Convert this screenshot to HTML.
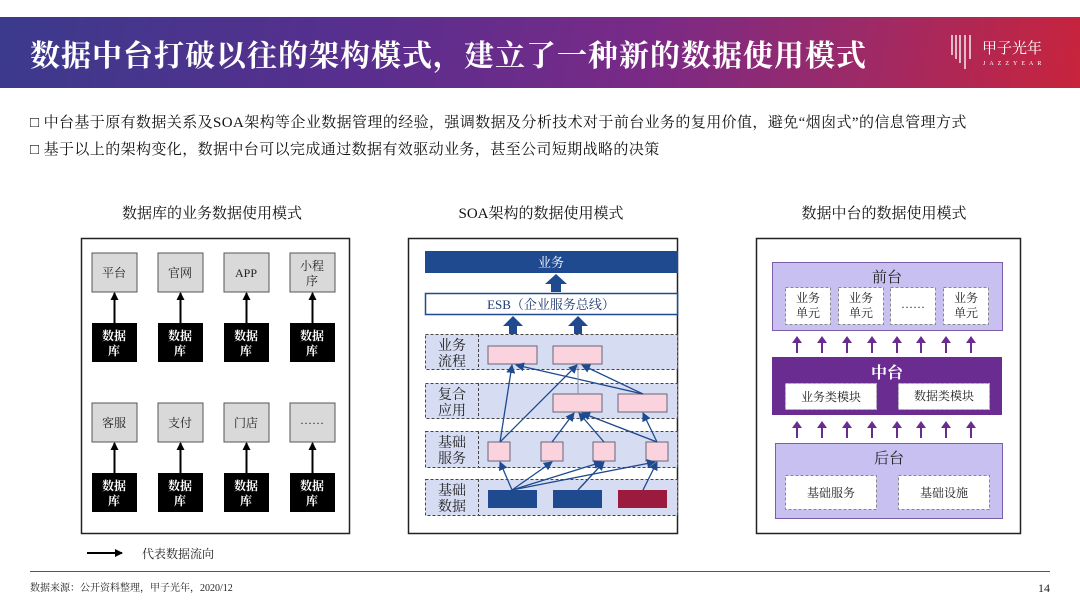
<!DOCTYPE html>
<html><head><meta charset="utf-8">
<style>
html,body{margin:0;padding:0;background:#fff;}
body{width:1080px;height:607px;position:relative;overflow:hidden;font-family:"Liberation Serif","Noto Serif CJK SC",serif;}
.hdr{position:absolute;left:0;top:17px;width:1080px;height:71px;background:linear-gradient(100deg,#3b3a8c 0%,#5a2e8e 35%,#7a2a86 60%,#9a2a6a 78%,#c8243c 100%);}
.title{position:absolute;left:30px;top:31px;color:#fff;font-size:30px;font-weight:bold;letter-spacing:1px;font-family:"Liberation Serif","Noto Serif CJK SC",serif;}
.b{position:absolute;left:30px;font-size:15px;letter-spacing:0.4px;color:#111;font-family:"Liberation Serif","Noto Serif CJK SC",serif;}
svg text{font-family:"Liberation Serif","Noto Serif CJK SC",serif;}
</style></head><body>
<div class="hdr"></div>
<div class="title">数据中台打破以往的架构模式，建立了一种新的数据使用模式</div>
<svg style="position:absolute;left:945px;top:33px" width="110" height="45">
<g stroke="#fff" stroke-width="1.5" opacity="0.9"><line x1="7" y1="2" x2="7" y2="22"/><line x1="11" y1="2" x2="11" y2="26"/><line x1="15" y1="2" x2="15" y2="30"/><line x1="20" y1="2" x2="20" y2="36"/><line x1="25" y1="2" x2="25" y2="26"/></g>
<text x="37" y="20" fill="#fff" font-size="15" font-family="Liberation Sans,Noto Sans CJK SC,sans-serif">甲子光年</text>
<text x="38" y="32" fill="#fff" font-size="6" letter-spacing="4">JAZZYEAR</text>
</svg>
<div class="b" style="top:111px">□ 中台基于原有数据关系及SOA架构等企业数据管理的经验，强调数据及分析技术对于前台业务的复用价值，避免“烟囱式”的信息管理方式</div>
<div class="b" style="top:138px">□ 基于以上的架构变化，数据中台可以完成通过数据有效驱动业务，甚至公司短期战略的决策</div>

<svg style="position:absolute;left:0;top:0" width="1080" height="607">
<defs>
<marker id="ab" markerWidth="8" markerHeight="8" refX="7" refY="4" orient="auto" markerUnits="userSpaceOnUse"><path d="M0,0 L8,4 L0,8z" fill="#000"/></marker>
<marker id="abl" markerWidth="9" markerHeight="9" refX="8" refY="4.5" orient="auto" markerUnits="userSpaceOnUse"><path d="M0,0 L9,4.5 L0,9z" fill="#1f4a8f"/></marker>
</defs>
<g font-size="15" fill="#111" text-anchor="middle">
<text x="212" y="218">数据库的业务数据使用模式</text>
<text x="541" y="218">SOA架构的数据使用模式</text>
<text x="884" y="218">数据中台的数据使用模式</text>
</g>
<!-- Panel 1 -->
<rect x="81.5" y="238.5" width="268" height="295" fill="none" stroke="#222" stroke-width="1.5"/>
<g font-size="12" text-anchor="middle">
<g fill="#d9d9d9" stroke="#555">
<rect x="92" y="253" width="45" height="39"/><rect x="158" y="253" width="45" height="39"/><rect x="224" y="253" width="45" height="39"/><rect x="290" y="253" width="45" height="39"/>
<rect x="92" y="403" width="45" height="39"/><rect x="158" y="403" width="45" height="39"/><rect x="224" y="403" width="45" height="39"/><rect x="290" y="403" width="45" height="39"/>
</g>
<g fill="#222"><text x="114" y="277">平台</text><text x="180" y="277">官网</text><text x="246" y="277">APP</text><text x="312" y="270">小程</text><text x="312" y="285">序</text>
<text x="114" y="427">客服</text><text x="180" y="427">支付</text><text x="246" y="427">门店</text><text x="312" y="424">……</text></g>
<g fill="#000">
<rect x="92" y="323" width="45" height="39"/><rect x="158" y="323" width="45" height="39"/><rect x="224" y="323" width="45" height="39"/><rect x="290" y="323" width="45" height="39"/>
<rect x="92" y="473" width="45" height="39"/><rect x="158" y="473" width="45" height="39"/><rect x="224" y="473" width="45" height="39"/><rect x="290" y="473" width="45" height="39"/>
</g>
<g fill="#fff" font-weight="bold">
<text x="114" y="340">数据</text><text x="114" y="355">库</text><text x="180" y="340">数据</text><text x="180" y="355">库</text><text x="246" y="340">数据</text><text x="246" y="355">库</text><text x="312" y="340">数据</text><text x="312" y="355">库</text>
<text x="114" y="490">数据</text><text x="114" y="505">库</text><text x="180" y="490">数据</text><text x="180" y="505">库</text><text x="246" y="490">数据</text><text x="246" y="505">库</text><text x="312" y="490">数据</text><text x="312" y="505">库</text>
</g>
<g stroke="#000" stroke-width="2" marker-end="url(#ab)">
<line x1="114.5" y1="323" x2="114.5" y2="293"/><line x1="180.5" y1="323" x2="180.5" y2="293"/><line x1="246.5" y1="323" x2="246.5" y2="293"/><line x1="312.5" y1="323" x2="312.5" y2="293"/>
<line x1="114.5" y1="473" x2="114.5" y2="443"/><line x1="180.5" y1="473" x2="180.5" y2="443"/><line x1="246.5" y1="473" x2="246.5" y2="443"/><line x1="312.5" y1="473" x2="312.5" y2="443"/>
<line x1="87" y1="553" x2="122" y2="553"/>
</g>
<text x="178" y="558" fill="#222">代表数据流向</text>
</g>
<!-- Panel 2 -->
<rect x="408.5" y="238.5" width="269" height="295" fill="none" stroke="#222" stroke-width="1.5"/>
<rect x="425" y="251" width="253" height="22" fill="#1f4a8f"/>
<text x="551" y="267" fill="#fff" font-size="13" text-anchor="middle">业务</text>
<rect x="425.5" y="293.5" width="252" height="21" fill="#fff" stroke="#1f4a8f" stroke-width="1.5"/>
<text x="551" y="309" fill="#1f3a6f" font-size="13" text-anchor="middle">ESB（企业服务总线）</text>
<g fill="#1f4a8f">
<path d="M551,292 v-8 h-6 l11,-10 l11,10 h-6 v8z"/>
<path d="M509,334 v-8 h-6 l10,-10 l10,10 h-6 v8z"/>
<path d="M574,334 v-8 h-6 l10,-10 l10,10 h-6 v8z"/>
</g>
<g fill="#d6dcf2" stroke="#444" stroke-dasharray="3,2">
<rect x="425.5" y="334.5" width="252" height="35"/><rect x="425.5" y="383.5" width="252" height="35"/><rect x="425.5" y="431.5" width="252" height="36"/><rect x="425.5" y="479.5" width="252" height="36"/>
<line x1="478.5" y1="334" x2="478.5" y2="370"/><line x1="478.5" y1="383" x2="478.5" y2="419"/><line x1="478.5" y1="431" x2="478.5" y2="468"/><line x1="478.5" y1="479" x2="478.5" y2="516"/>
</g>
<g font-size="14" fill="#222" text-anchor="middle">
<text x="452" y="350">业务</text><text x="452" y="366">流程</text>
<text x="452" y="399">复合</text><text x="452" y="415">应用</text>
<text x="452" y="447">基础</text><text x="452" y="463">服务</text>
<text x="452" y="495">基础</text><text x="452" y="511">数据</text>
</g>
<g fill="#fbd3df" stroke="#667">
<rect x="488" y="346" width="49" height="18"/><rect x="553" y="346" width="49" height="18"/>
<rect x="553" y="394" width="49" height="18"/><rect x="618" y="394" width="49" height="18"/>
<rect x="488" y="442" width="22" height="19"/><rect x="541" y="442" width="22" height="19"/><rect x="593" y="442" width="22" height="19"/><rect x="646" y="442" width="22" height="19"/>
</g>
<rect x="488" y="490" width="49" height="18" fill="#1f4a8f"/><rect x="553" y="490" width="49" height="18" fill="#1f4a8f"/><rect x="618" y="490" width="49" height="18" fill="#9b1b3f"/>
<g stroke="#1f4a8f" stroke-width="1.3" fill="none" marker-end="url(#abl)">
<line x1="500" y1="442" x2="512" y2="365"/>
<line x1="500" y1="442" x2="577" y2="365"/>
<line x1="643" y1="394" x2="516" y2="365"/>
<line x1="643" y1="394" x2="582" y2="365"/>
<line x1="552" y1="442" x2="574" y2="413"/>
<line x1="604" y1="442" x2="579" y2="413"/>
<line x1="657" y1="442" x2="582" y2="413"/>
<line x1="657" y1="442" x2="643" y2="413"/>
<line x1="512" y1="490" x2="500" y2="462"/>
<line x1="512" y1="490" x2="552" y2="462"/>
<line x1="512" y1="490" x2="602" y2="462"/>
<line x1="512" y1="490" x2="655" y2="462"/>
<line x1="578" y1="490" x2="604" y2="462"/>
<line x1="643" y1="490" x2="657" y2="462"/>
</g>
<line x1="578" y1="394" x2="578" y2="366" stroke="#8890b0" stroke-width="1"/>
<!-- Panel 3 -->
<rect x="756.5" y="238.5" width="264" height="295" fill="none" stroke="#222" stroke-width="1.5"/>
<rect x="772.5" y="262.5" width="230" height="68" fill="#c9c0f2" stroke="#7b5ea7"/>
<text x="887" y="282" font-size="15" fill="#222" text-anchor="middle">前台</text>
<g fill="#fff" stroke="#888" stroke-dasharray="3,2">
<rect x="785.5" y="287.5" width="45" height="37"/><rect x="838.5" y="287.5" width="45" height="37"/><rect x="890.5" y="287.5" width="45" height="37"/><rect x="943.5" y="287.5" width="45" height="37"/>
</g>
<g font-size="12" fill="#222" text-anchor="middle">
<text x="808" y="302">业务</text><text x="808" y="317">单元</text><text x="861" y="302">业务</text><text x="861" y="317">单元</text><text x="913" y="308">……</text><text x="966" y="302">业务</text><text x="966" y="317">单元</text>
</g>
<rect x="772" y="357" width="230" height="58" fill="#6a2c91"/>
<text x="887" y="378" font-size="16" font-weight="bold" fill="#fff" text-anchor="middle">中台</text>
<g fill="#fff" stroke="#bbb" stroke-dasharray="3,2"><rect x="785.5" y="383.5" width="91" height="26"/><rect x="898.5" y="383.5" width="91" height="26"/></g>
<g font-size="12" fill="#222" text-anchor="middle"><text x="831" y="401">业务类模块</text><text x="944" y="400">数据类模块</text></g>
<rect x="775.5" y="443.5" width="227" height="75" fill="#c9c0f2" stroke="#7b5ea7"/>
<text x="889" y="463" font-size="15" fill="#222" text-anchor="middle">后台</text>
<g fill="#fff" stroke="#888" stroke-dasharray="3,2"><rect x="785.5" y="475.5" width="91" height="34"/><rect x="898.5" y="475.5" width="91" height="34"/></g>
<g font-size="12" fill="#222" text-anchor="middle"><text x="831" y="497">基础服务</text><text x="944" y="497">基础设施</text></g>
<g fill="#6a2c91">
<path id="pa" d="M796,353 v-10 h-4 l5,-7 l5,7 h-4 v10z"/>
<use href="#pa" x="25"/><use href="#pa" x="50"/><use href="#pa" x="75"/><use href="#pa" x="100"/><use href="#pa" x="124"/><use href="#pa" x="149"/><use href="#pa" x="174"/>
<use href="#pa" y="85"/><use href="#pa" x="25" y="85"/><use href="#pa" x="50" y="85"/><use href="#pa" x="75" y="85"/><use href="#pa" x="100" y="85"/><use href="#pa" x="124" y="85"/><use href="#pa" x="149" y="85"/><use href="#pa" x="174" y="85"/>
</g>
<!-- footer -->
<line x1="30" y1="571.5" x2="1050" y2="571.5" stroke="#555" stroke-width="1"/>
<text x="30" y="591" font-size="10" fill="#222">数据来源：公开资料整理，甲子光年，2020/12</text>
<text x="1050" y="592" font-size="12" fill="#222" text-anchor="end">14</text>
</svg>
</body></html>
